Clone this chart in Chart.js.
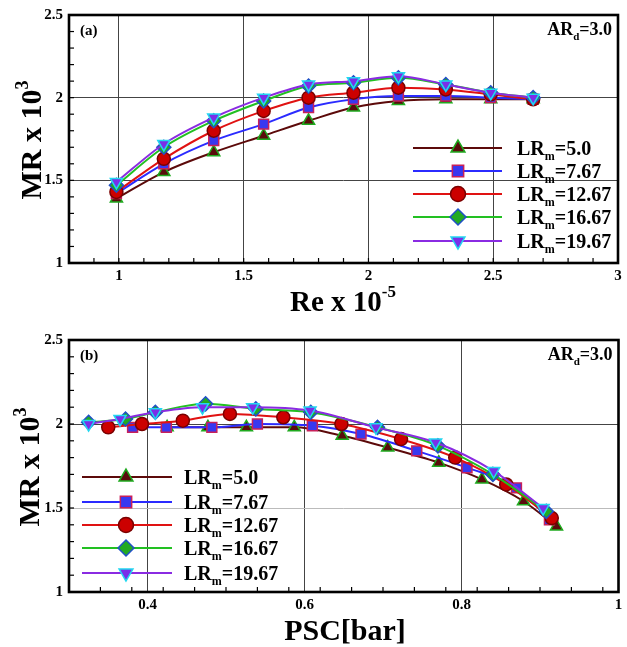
<!DOCTYPE html>
<html>
<head>
<meta charset="utf-8">
<script src="https://cdn.jsdelivr.net/npm/chart.js@4.4.0/dist/chart.umd.min.js"></script>
<style>
  html, body { margin: 0; padding: 0; background: #fff; }
  #wrap { position: relative; width: 627px; height: 647px; }
  canvas { position: absolute; left: 0; }
  #chart-a { top: 0; }
  #chart-b { top: 320px; }
</style>
</head>
<body>
<div id="wrap">
  <canvas id="chart-a" width="627" height="320"></canvas>
  <canvas id="chart-b" width="627" height="327"></canvas>
</div>
<script>
// series labels (LR_m values)
const lrLabels = ['5.0', '7.67', '12.67', '16.67', '19.67'];

// (a) MR x 10^3 vs Re x 10^-5
const reVals  = [0.99, 1.18, 1.38, 1.58, 1.76, 1.94, 2.12, 2.31, 2.49, 2.66];
const mrA_5   = [1.39, 1.55, 1.67, 1.77, 1.86, 1.94, 1.98, 1.99, 1.99, 1.99];
const mrA_767 = [1.42, 1.60, 1.74, 1.84, 1.94, 1.99, 2.01, 2.01, 2.00, 1.99];
const mrA_1267 = [1.43, 1.63, 1.80, 1.92, 2.00, 2.03, 2.06, 2.05, 2.02, 1.99];
const mrA_1667 = [1.47, 1.70, 1.86, 1.98, 2.07, 2.09, 2.12, 2.08, 2.03, 2.00];
const mrA_1967 = [1.49, 1.72, 1.88, 2.00, 2.08, 2.10, 2.13, 2.08, 2.03, 2.00];

// (b) MR x 10^3 vs PSC [bar]
const pscB_5    = [0.425, 0.477, 0.526, 0.587, 0.648, 0.706, 0.771, 0.826, 0.879, 0.921];
const mrB_5     = [1.98, 1.98, 1.98, 1.98, 1.93, 1.86, 1.77, 1.67, 1.54, 1.39];
const pscB_767  = [0.381, 0.424, 0.482, 0.540, 0.610, 0.672, 0.743, 0.807, 0.870, 0.912];
const mrB_767   = [1.98, 1.98, 1.98, 2.00, 1.99, 1.94, 1.84, 1.74, 1.62, 1.43];
const pscB_1267 = [0.350, 0.393, 0.445, 0.505, 0.573, 0.647, 0.723, 0.792, 0.857, 0.915];
const mrB_1267  = [1.98, 2.00, 2.02, 2.06, 2.04, 2.00, 1.91, 1.80, 1.64, 1.44];
const pscB_1667 = [0.325, 0.372, 0.410, 0.474, 0.538, 0.608, 0.693, 0.770, 0.840, 0.908];
const mrB_1667  = [2.01, 2.03, 2.07, 2.12, 2.09, 2.07, 1.98, 1.87, 1.70, 1.48];
const pscB_1967 = [0.325, 0.365, 0.410, 0.470, 0.534, 0.607, 0.691, 0.767, 0.841, 0.904];
const mrB_1967  = [2.00, 2.03, 2.07, 2.10, 2.10, 2.08, 1.98, 1.89, 1.72, 1.50];

// tick labels
const yTicks  = [1, 1.5, 2, 2.5];
const xTicksA = [1, 1.5, 2, 2.5, 3];
const xTicksB = [0.4, 0.6, 0.8, 1];

const SERIF = '"Liberation Serif", "DejaVu Serif", serif';

const styles = [
  { line: '#5c0a0a', fill: '#5a0c0c', edge: '#1faa1f', shape: 'triangle', rot: 0,   r: 7 },
  { line: '#2b2bff', fill: '#3838f0', edge: '#c8205a', shape: 'rect',     rot: 0,   r: 7 },
  { line: '#e01212', fill: '#cc0000', edge: '#7a0000', shape: 'circle',   rot: 0,   r: 6.5 },
  { line: '#22c022', fill: '#22aa22', edge: '#2050c8', shape: 'rectRot',  rot: 0,   r: 7 },
  { line: '#8a2be2', fill: '#7a2ee8', edge: '#22d8f0', shape: 'triangle', rot: 180, r: 7 }
];

function toPts(xs, ys) { return xs.map((x, i) => ({ x: x, y: ys[i] })); }

function makeSets(pairs) {
  return pairs.map((p, i) => {
    const s = styles[i];
    return {
      label: 'LRm=' + lrLabels[i],
      data: toPts(p[0], p[1]),
      showLine: true,
      borderColor: s.line,
      borderWidth: 2,
      cubicInterpolationMode: 'monotone',
      pointStyle: s.shape,
      pointRotation: s.rot,
      pointRadius: s.r,
      pointBackgroundColor: s.fill,
      pointBorderColor: s.edge,
      pointBorderWidth: 1.5,
      order: 5 - i
    };
  });
}

// draws a run of text pieces (for sub/superscripts)
function richText(ctx, segs, x, y, align) {
  let w = 0;
  segs.forEach(s => { ctx.font = s.font; s.w = ctx.measureText(s.t).width; w += s.w; });
  let cx = align === 'center' ? x - w / 2 : align === 'right' ? x - w : x;
  ctx.textAlign = 'left';
  ctx.textBaseline = 'alphabetic';
  segs.forEach(s => { ctx.font = s.font; ctx.fillText(s.t, cx, y + (s.dy || 0)); cx += s.w; });
}

const framePlugin = {
  id: 'frame',
  afterDraw(chart, args, o) {
    const { ctx, chartArea: a, scales: { x, y } } = chart;
    ctx.save();
    ctx.strokeStyle = '#000';
    ctx.lineWidth = 1.2;
    const ny = Math.round((y.max - y.min) / o.yMinor);
    for (let i = 0; i <= ny; i++) {
      const py = y.getPixelForValue(y.min + i * o.yMinor);
      ctx.beginPath(); ctx.moveTo(a.left, py); ctx.lineTo(a.left + 5, py); ctx.stroke();
    }
    const nx = Math.round((x.max - x.min) / o.xMinor);
    for (let i = 0; i <= nx; i++) {
      const px = x.getPixelForValue(x.min + i * o.xMinor);
      ctx.beginPath(); ctx.moveTo(px, a.bottom); ctx.lineTo(px, a.bottom - 5); ctx.stroke();
    }
    ctx.lineWidth = 2.6;
    ctx.strokeRect(a.left, a.top, a.right - a.left, a.bottom - a.top);

    // axis titles, panel label, AR_d note
    ctx.fillStyle = '#000';
    ctx.save();
    ctx.translate(o.yTitle.x, o.yTitle.y);
    ctx.rotate(-Math.PI / 2);
    richText(ctx, [
      { t: 'MR x 10', font: 'bold 30px ' + SERIF },
      { t: '3', font: 'bold 18px ' + SERIF, dy: -13 }
    ], 0, 0, 'center');
    ctx.restore();
    richText(ctx, o.xTitle.segs, o.xTitle.x, o.xTitle.y, 'center');
    richText(ctx, [{ t: o.panel, font: 'bold 15px ' + SERIF }], a.left + 11, o.panelY, 'left');
    richText(ctx, [
      { t: 'AR', font: 'bold 18px ' + SERIF },
      { t: 'd', font: 'bold 11px ' + SERIF, dy: 5 },
      { t: '=3.0', font: 'bold 18px ' + SERIF }
    ], a.right - 6, o.panelY, 'right');

    // legend
    const L = o.legend;
    chart.data.datasets.forEach((ds, i) => {
      const s = styles[i];
      const ry = L.rows[i];
      ctx.strokeStyle = s.line;
      ctx.lineWidth = 2.2;
      ctx.beginPath(); ctx.moveTo(L.x1, ry); ctx.lineTo(L.x2, ry); ctx.stroke();
      ctx.fillStyle = s.fill;
      ctx.strokeStyle = s.edge;
      ctx.lineWidth = 1.5;
      Chart.helpers.drawPoint(ctx, { pointStyle: s.shape, rotation: s.rot, radius: s.r + 1, borderWidth: 1.5 }, L.xm, ry);
      ctx.fillStyle = '#000';
      richText(ctx, [
        { t: 'LR', font: 'bold 20px ' + SERIF },
        { t: 'm', font: 'bold 12px ' + SERIF, dy: 5 },
        { t: '=' + lrLabels[i], font: 'bold 20px ' + SERIF }
      ], L.tx, ry + 7, 'left');
    });
    ctx.restore();
  }
};

function axisOpts(min, max, ticks, gridColor, xHeight, isX) {
  return {
    type: 'linear',
    min: min,
    max: max,
    afterBuildTicks: s => { s.ticks = ticks.map(v => ({ value: v })); },
    afterFit: s => { if (isX) s.height = xHeight; else s.width = 69; },
    grid: { color: gridColor, lineWidth: 1, drawTicks: false },
    border: { display: false },
    ticks: {
      color: '#000',
      padding: isX ? 4 : 6,
      font: { family: SERIF, size: 15, weight: 'bold' },
      callback: v => String(v)
    }
  };
}

function makeChart(id, sets, xr, xTicks, pad, xHeight, gridY, o) {
  return new Chart(document.getElementById(id), {
    type: 'scatter',
    data: { datasets: sets },
    options: {
      responsive: false,
      animation: false,
      layout: { padding: pad },
      scales: {
        x: axisOpts(xr[0], xr[1], xTicks, '#444', xHeight, true),
        y: axisOpts(1, 2.5, yTicks, gridY, xHeight, false)
      },
      plugins: { legend: { display: false }, tooltip: { enabled: false }, frame: o }
    },
    plugins: [framePlugin]
  });
}

makeChart('chart-a',
  makeSets([[reVals, mrA_5], [reVals, mrA_767], [reVals, mrA_1267], [reVals, mrA_1667], [reVals, mrA_1967]]),
  [0.8, 3], xTicksA, { top: 13, right: 9, left: 0, bottom: 0 }, 57, '#444',
  {
    yMinor: 0.1, xMinor: 0.1, panel: '(a)', panelY: 35,
    yTitle: { x: 41, y: 140 },
    xTitle: { x: 343, y: 311, segs: [
      { t: 'Re x 10', font: 'bold 29px ' + SERIF },
      { t: '-5', font: 'bold 17px ' + SERIF, dy: -14 }
    ] },
    legend: { x1: 413, x2: 502, xm: 458, tx: 517, rows: [148, 171, 194, 217, 241] }
  });

makeChart('chart-b',
  makeSets([[pscB_5, mrB_5], [pscB_767, mrB_767], [pscB_1267, mrB_1267], [pscB_1667, mrB_1667], [pscB_1967, mrB_1967]]),
  [0.3, 1], xTicksB, { top: 20, right: 6, left: 0, bottom: 0 }, 55,
  c => (c.tick && c.tick.value === 1.5) ? '#bbbbbb' : '#444',
  {
    yMinor: 0.1, xMinor: 0.04, panel: '(b)', panelY: 40,
    yTitle: { x: 39, y: 147 },
    xTitle: { x: 345, y: 320, segs: [{ t: 'PSC[bar]', font: 'bold 30px ' + SERIF }] },
    legend: { x1: 82, x2: 172, xm: 126, tx: 184, rows: [157, 182, 205, 228, 253] }
  });
</script>
</body>
</html>
